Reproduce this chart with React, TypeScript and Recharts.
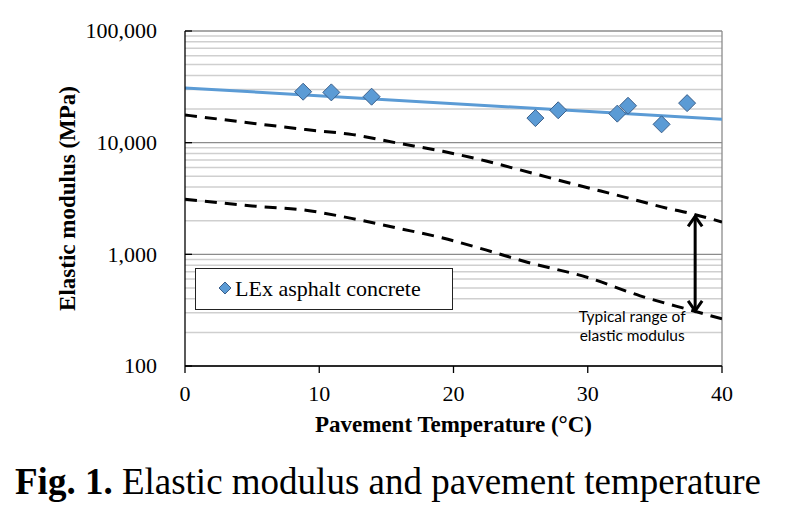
import React from 'react';
import {
  ComposedChart, Line, Scatter, XAxis, YAxis, CartesianGrid, ReferenceLine,
} from 'recharts';

// ---- data ----
const measuredTemp = [8.8, 10.9, 13.9, 26.1, 27.8, 32.2, 33.0, 35.5, 37.4];
const measuredModulus = [28600, 28200, 25800, 16600, 19500, 18200, 21400, 14600, 22600];

const trendTemp = [0, 40];
const trendModulus = [30900, 16200];

const upperTemp = [0, 5.5, 9, 12.5, 15.7, 19.2, 22.5, 25.9, 29.2, 32.6, 35.9, 37.6, 40];
const upperModulus = [17700, 14700, 13100, 11800, 9980, 8370, 6810, 5320, 4180, 3290, 2590, 2330, 1950];

const lowerTemp = [0, 5, 9, 12.4, 15.8, 19.2, 22.4, 25.5, 30, 33.9, 37.9, 40];
const lowerModulus = [3120, 2710, 2480, 2100, 1720, 1400, 1095, 850, 620, 425, 311, 264];

const rangeArrow = { temp: 38, top: 2230, bottom: 305 };

const xTicks = [0, 10, 20, 30, 40];
const yTicks = [100, 1000, 10000, 100000];
const minorGrid = [
  200, 300, 400, 500, 600, 700, 800, 900,
  2000, 3000, 4000, 5000, 6000, 7000, 8000, 9000,
  20000, 30000, 40000, 50000, 60000, 70000, 80000, 90000,
];

const seriesName = 'LEx asphalt concrete';
const annotationLines = ['Typical range of', 'elastic modulus'];
const xTitle = 'Pavement Temperature (°C)';
const yTitle = 'Elastic modulus (MPa)';
const captionBold = 'Fig. 1.';
const captionRest = ' Elastic modulus and pavement temperature';

const zip = (xs: number[], ys: number[]) => xs.map((x, i) => ({ x, y: ys[i] }));
const measuredData = zip(measuredTemp, measuredModulus);
const trendData = zip(trendTemp, trendModulus);
const upperData = zip(upperTemp, upperModulus);
const lowerData = zip(lowerTemp, lowerModulus);

const SERIF = 'Liberation Serif';
const SANS = 'Lato';
const BLUE = '#5b9bd5';
const BLUE_EDGE = '#3b5f8a';

const Diamond = (props: any) => {
  const { cx, cy } = props;
  if (cx == null || cy == null) return null;
  const h = 8.5;
  return (
    <polygon
      points={`${cx},${cy - h} ${cx + h},${cy} ${cx},${cy + h} ${cx - h},${cy}`}
      fill={BLUE}
      stroke={BLUE_EDGE}
      strokeWidth={1}
    />
  );
};

const ArrowShape = (props: any) => {
  const { x1, y1, x2, y2 } = props;
  if ([x1, y1, x2, y2].some((v) => v == null || Number.isNaN(v))) return null;
  const top = Math.min(y1, y2);
  const bot = Math.max(y1, y2);
  const x = x1;
  const aw = 7;
  const ah = 11;
  return (
    <g>
      <line x1={x} y1={top + 1} x2={x} y2={bot - 1} stroke="#000" strokeWidth={3} />
      <polyline points={`${x - aw},${top + ah} ${x},${top + 1} ${x + aw},${top + ah}`} fill="none" stroke="#000" strokeWidth={3} />
      <polyline points={`${x - aw},${bot - ah} ${x},${bot - 1} ${x + aw},${bot - ah}`} fill="none" stroke="#000" strokeWidth={3} />
      <text x={x - 63} y={bot + 10} textAnchor="middle" fontFamily={SANS} fontSize={15.5} fill="#000">
        {annotationLines[0]}
      </text>
      <text x={x - 63} y={bot + 29} textAnchor="middle" fontFamily={SANS} fontSize={15.5} fill="#000">
        {annotationLines[1]}
      </text>
    </g>
  );
};

const fmt = (v: number) => v.toLocaleString('en-US');

const YTick = (props: any) => {
  const { x, y, payload } = props;
  return (
    <text x={x} y={y} dy="0.34em" textAnchor="end" fontFamily={SERIF} fontSize={22} fill="#000">
      {fmt(payload.value)}
    </text>
  );
};

const XTick = (props: any) => {
  const { x, y, payload } = props;
  return (
    <text x={x} y={y} dy="0.71em" textAnchor="middle" fontFamily={SERIF} fontSize={22} fill="#000">
      {payload.value}
    </text>
  );
};

export default function App() {
  return (
    <div style={{ position: 'relative', width: 790, height: 513, background: '#fff' }}>
      <style>{`body{margin:0;background:#fff;}`}</style>
      <ComposedChart
        width={790}
        height={513}
        margin={{ top: 31, right: 68, left: 0, bottom: 107 }}
      >
        {minorGrid.map((v) => (
          <ReferenceLine key={`g${v}`} y={v} stroke="#cfcfcf" strokeWidth={1.5} />
        ))}
        <CartesianGrid vertical={false} stroke="#8c8c8c" strokeWidth={1.3} />
        <XAxis
          type="number"
          dataKey="x"
          domain={[0, 40]}
          ticks={xTicks}
          height={40}
          tickSize={7}
          tickMargin={12}
          axisLine={{ stroke: '#000', strokeWidth: 1.3 }}
          tickLine={{ stroke: '#000', strokeWidth: 1.3 }}
          tick={<XTick />}
          allowDataOverflow
          label={{
            content: (p: any) => {
              const vb = p.viewBox || {};
              return (
                <text
                  x={vb.x + vb.width / 2}
                  y={432}
                  textAnchor="middle"
                  fontFamily={SERIF}
                  fontWeight="bold"
                  fontSize={23}
                  fill="#000"
                >
                  {xTitle}
                </text>
              );
            },
          }}
        />
        <YAxis
          type="number"
          dataKey="y"
          scale="log"
          domain={[100, 100000]}
          ticks={yTicks}
          width={185}
          tickSize={-7}
          tickMargin={35}
          axisLine={{ stroke: '#000', strokeWidth: 1.3 }}
          tickLine={{ stroke: '#000', strokeWidth: 1.3 }}
          tick={<YTick />}
          allowDataOverflow
          label={{
            content: (p: any) => {
              const vb = p.viewBox || {};
              const cy = vb.y + vb.height / 2;
              return (
                <text
                  x={75}
                  y={cy}
                  transform={`rotate(-90 75 ${cy})`}
                  textAnchor="middle"
                  fontFamily={SERIF}
                  fontWeight="bold"
                  fontSize={23}
                  fill="#000"
                >
                  {yTitle}
                </text>
              );
            },
          }}
        />
        <ReferenceLine x={40} stroke="#8c8c8c" strokeWidth={1.3} />
        <Line
          data={upperData}
          dataKey="y"
          type="monotone"
          stroke="#000"
          strokeWidth={3}
          strokeDasharray="12 8"
          dot={false}
          activeDot={false}
          isAnimationActive={false}
          legendType="none"
        />
        <Line
          data={lowerData}
          dataKey="y"
          type="monotone"
          stroke="#000"
          strokeWidth={3}
          strokeDasharray="12 8"
          dot={false}
          activeDot={false}
          isAnimationActive={false}
          legendType="none"
        />
        <Line
          data={trendData}
          dataKey="y"
          type="linear"
          stroke={BLUE}
          strokeWidth={3}
          dot={false}
          activeDot={false}
          isAnimationActive={false}
          legendType="none"
        />
        <Scatter
          name={seriesName}
          data={measuredData}
          dataKey="y"
          shape={<Diamond />}
          isAnimationActive={false}
        />
        <ReferenceLine
          segment={[
            { x: rangeArrow.temp, y: rangeArrow.top },
            { x: rangeArrow.temp, y: rangeArrow.bottom },
          ]}
          shape={<ArrowShape />}
          ifOverflow="visible"
        />
      </ComposedChart>
      <svg width={790} height={513} style={{ position: 'absolute', left: 0, top: 0, pointerEvents: 'none' }}>
        <rect x={195.5} y={268.5} width={257} height={41} fill="#fff" stroke="#222" strokeWidth={1} />
        <polygon points="225,282 231,288 225,294 219,288" fill={BLUE} stroke={BLUE_EDGE} strokeWidth={1} />
        <text x={235} y={295.5} fontFamily={SERIF} fontSize={22} fill="#000">{seriesName}</text>
        <text x={15} y={494} fontFamily={SERIF} fontSize={37} fill="#000">
          <tspan fontWeight="bold">{captionBold}</tspan>
          <tspan>{captionRest}</tspan>
        </text>
      </svg>
    </div>
  );
}
